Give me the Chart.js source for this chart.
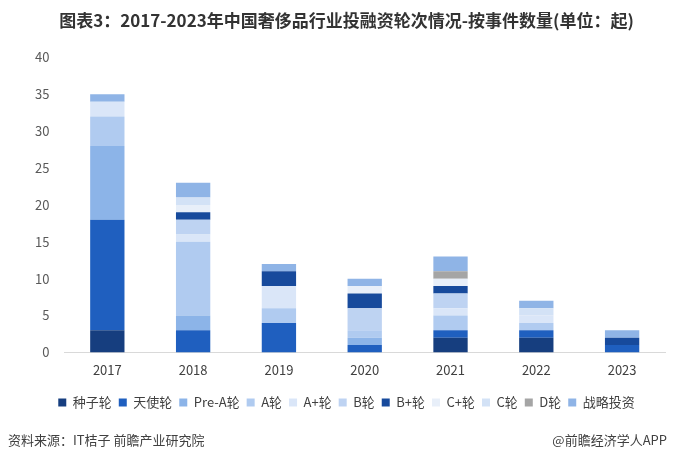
<!DOCTYPE html>
<html>
<head>
<meta charset="utf-8">
<script src="https://cdn.jsdelivr.net/npm/chart.js@4"></script>
<style>
    body { margin: 0; background: #fff; font-family: "Noto Sans CJK SC", sans-serif; }
    #wrap { position: absolute; left: 0; top: 0; width: 673px; height: 460px; }
    .foot { position: absolute; top: 430px; font-size: 13px; color: #404040; }
</style>
</head>
<body>
<div id="wrap"><canvas id="chart"></canvas></div>
<div class="foot" style="left:8px;">资料来源：IT桔子 前瞻产业研究院</div>
<div class="foot" style="right:6px;">@前瞻经济学人APP</div>
<script>
// 年份
const years = ['2017', '2018', '2019', '2020', '2021', '2022', '2023'];

// 各轮次事件数量
const seed       = [3, 0, 0, 0, 2, 2, 0];
const angel      = [15, 3, 4, 1, 1, 1, 1];
const preA       = [10, 2, 0, 1, 0, 0, 0];
const roundA     = [4, 10, 2, 1, 2, 1, 0];
const roundAPlus = [2, 1, 3, 0, 1, 1, 0];
const roundB     = [0, 2, 0, 3, 2, 0, 0];
const roundBPlus = [0, 1, 2, 2, 1, 0, 1];
const roundCPlus = [0, 1, 0, 1, 1, 0, 0];
const roundC     = [0, 1, 0, 0, 0, 1, 0];
const roundD     = [0, 0, 0, 0, 1, 0, 0];
const strategic  = [1, 2, 1, 1, 2, 1, 1];

const yTicks = [0, 5, 10, 15, 20, 25, 30, 35, 40];

const series = [
    ['种子轮', seed, '#163e7f'],
    ['天使轮', angel, '#1f5fbf'],
    ['Pre-A轮', preA, '#8cb4e8'],
    ['A轮', roundA, '#b0cbf0'],
    ['A+轮', roundAPlus, '#dae6f8'],
    ['B轮', roundB, '#bed3f2'],
    ['B+轮', roundBPlus, '#174a9c'],
    ['C+轮', roundCPlus, '#e8eff9'],
    ['C轮', roundC, '#d3e2f6'],
    ['D轮', roundD, '#a5a5a5'],
    ['战略投资', strategic, '#8fb4e6']
];

const ctx = document.getElementById('chart').getContext('2d');
new Chart(ctx, {
    type: 'bar',
    data: {
        labels: years,
        datasets: series.map(s => ({
            label: s[0],
            data: s[1],
            backgroundColor: s[2],
            borderWidth: 0,
            barPercentage: 0.4,
            categoryPercentage: 1
        }))
    },
    options: {
        responsive: true,
        maintainAspectRatio: false,
        animation: false,
        layout: { padding: { left: 28, right: 8, top: 4, bottom: 41 } },
        plugins: {
            title: {
                display: true,
                text: '图表3：2017-2023年中国奢侈品行业投融资轮次情况-按事件数量(单位：起)',
                color: '#333',
                font: { family: 'Noto Sans CJK SC', size: 17, weight: 'bold' },
                padding: { top: 6, bottom: 27 }
            },
            legend: {
                position: 'bottom',
                labels: {
                    boxWidth: 8,
                    boxHeight: 8,
                    padding: 7,
                    color: '#404040',
                    font: { family: 'Noto Sans CJK SC', size: 13 }
                }
            },
            tooltip: { enabled: false }
        },
        scales: {
            x: {
                stacked: true,
                grid: { display: false },
                border: { color: '#d9d9d9' },
                afterFit: s => { s.height += 9; },
                ticks: { color: '#404040', padding: 2, font: { family: 'Noto Sans CJK SC', size: 13 } }
            },
            y: {
                stacked: true,
                min: 0,
                max: 40,
                afterBuildTicks: axis => { axis.ticks = yTicks.map(v => ({ value: v })); },
                grid: { display: false },
                border: { display: false },
                ticks: { color: '#595959', padding: 7, font: { family: 'Noto Sans CJK SC', size: 13 } }
            }
        }
    }
});
</script>
</body>
</html>
